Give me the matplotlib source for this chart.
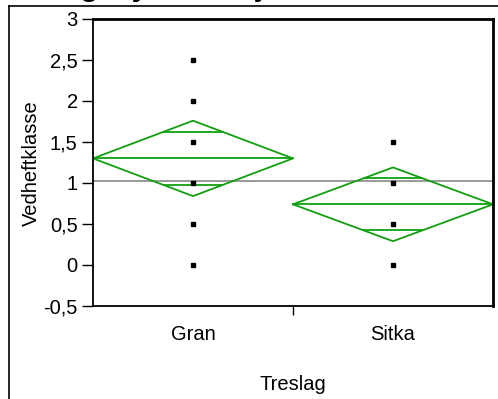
import numpy as np
import matplotlib
matplotlib.use("Agg")
import matplotlib.pyplot as plt
from matplotlib.lines import Line2D

plt.rcParams['font.family'] = ['Liberation Sans', 'DejaVu Sans']

# data
groups = ["Gran", "Sitka"]
gran_points = [0, 0.5, 1, 1.5, 2, 2.5]
sitka_points = [0, 0.5, 1, 1.5]
group_means = [1.30, 0.74]
group_ci = [0.46, 0.45]
grand_mean = 1.03
yticks = [-0.5, 0, 0.5, 1, 1.5, 2, 2.5, 3]
ytick_labels = ["-0,5", "0", "0,5", "1", "1,5", "2", "2,5", "3"]

W, H = 498, 399
fig = plt.figure(figsize=(W / 100, H / 100), dpi=100)
ax = fig.add_axes([93 / W, 1 - 306 / H, 400 / W, 287 / H])

green = '#10a010'

# grand mean line
ax.axhline(grand_mean, color='#888888', lw=1.2, zorder=1)

# means diamonds
for i, (m, c) in enumerate(zip(group_means, group_ci)):
    left, right, mid = i, i + 1, i + 0.5
    ax.plot([left, mid, right, mid, left], [m, m + c, m, m - c, m],
            color=green, lw=1.3, zorder=2)
    ax.plot([left, right], [m, m], color=green, lw=1.3, zorder=2)
    d = c / np.sqrt(2)
    half = 0.5 * (1 - d / c)
    for yy in (m + d, m - d):
        ax.plot([mid - half, mid + half], [yy, yy], color=green, lw=1.3, zorder=2)

# data points
for i, pts in enumerate([gran_points, sitka_points]):
    ax.plot([i + 0.5] * len(pts), pts, 's', color='black', markersize=3.3, zorder=3)

ax.set_xlim(0, 2)
ax.set_ylim(-0.5, 3)
ax.set_yticks(yticks)
ax.set_yticklabels(ytick_labels)
ax.set_xticks([1])
ax.set_xticklabels([""])
ax.set_xticks([0.5, 1.5], minor=True)
ax.set_xticklabels(groups, minor=True)
ax.tick_params(axis='y', length=8, width=1, pad=3, labelsize=14.5, direction='out')
ax.tick_params(axis='x', which='major', length=6.5, width=1, direction='out')
ax.tick_params(axis='x', which='minor', length=0, pad=14, labelsize=14.5)

for s in ax.spines.values():
    s.set_linewidth(1.3)
ax.spines['right'].set_linewidth(2)
ax.spines['top'].set_linewidth(2)

fig.text(293 / W, 1 - 390 / H, "Treslag", ha='center', va='baseline', fontsize=14.5)
fig.text(31 / W, 1 - 163 / H, "Vedheftklasse", ha='center', va='center',
         rotation=90, fontsize=14.5)

# cut-off title at top (only descenders show in the reference)
fig.text(-65 / W, 1 + 4.5 / H, "Behandlingssystem=Sjablon", ha='left', va='baseline',
         fontsize=21.6, fontweight='bold')

# outer frame edges
fig.add_artist(Line2D([9 / W, 9 / W], [0, 1 - 6 / H], transform=fig.transFigure,
                      color='black', lw=1.2))
fig.add_artist(Line2D([9 / W, 1], [1 - 6 / H, 1 - 6 / H], transform=fig.transFigure,
                      color='black', lw=1.2))

fig.savefig("out.png", dpi=100)
